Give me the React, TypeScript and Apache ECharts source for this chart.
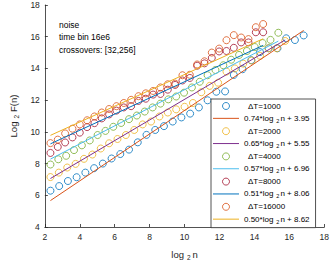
import React, { useEffect, useRef } from "react";
import * as echarts from "echarts";

// ---- data ----
const x1000 = [2.32, 2.82, 3.32, 3.82, 4.32, 4.82, 5.32, 5.82, 6.32, 6.82, 7.32, 7.82, 8.32, 8.82, 9.32, 9.82, 10.32, 10.82, 11.32, 11.82, 12.32, 12.82, 13.32, 13.82, 14.32, 14.82, 15.32, 15.82, 16.32, 16.82];
const y1000 = [6.29, 6.58, 6.9, 7.14, 7.43, 7.71, 8.0, 8.32, 8.6, 8.88, 9.34, 9.81, 10.12, 10.36, 10.65, 10.91, 11.15, 11.54, 11.99, 12.53, 12.55, 13.59, 13.95, 14.52, 15.03, 15.27, 15.27, 15.9, 15.79, 16.08];

const x2000 = [2.32, 2.8, 3.28, 3.76, 4.24, 4.72, 5.2, 5.68, 6.16, 6.64, 7.12, 7.6, 8.08, 8.56, 9.04, 9.52, 10.0, 10.48, 10.96, 11.44, 11.92, 12.4, 12.88, 13.36, 13.84, 14.32, 14.8, 15.28, 15.76];
const y2000 = [7.15, 7.43, 7.75, 7.98, 8.3, 8.57, 8.95, 9.28, 9.55, 9.8, 10.12, 10.47, 10.65, 10.97, 11.22, 11.42, 11.58, 11.82, 12.5, 12.9, 13.1, 13.8, 14.0, 14.3, 14.5, 14.8, 15.27, 15.27, 15.73];

const x4000 = [2.32, 2.77, 3.22, 3.67, 4.12, 4.57, 5.02, 5.47, 5.92, 6.37, 6.82, 7.27, 7.72, 8.17, 8.62, 9.07, 9.52, 9.97, 10.42, 10.87, 11.32, 11.77, 12.22, 12.67, 13.12, 13.57, 14.02, 14.47, 14.92, 15.37];
const y4000 = [7.94, 8.27, 8.49, 8.85, 9.15, 9.46, 9.8, 10.06, 10.32, 10.56, 10.8, 11.03, 11.28, 11.54, 11.78, 12.05, 12.23, 12.47, 12.8, 13.16, 13.57, 13.9, 14.2, 14.55, 14.85, 15.1, 15.35, 15.6, 15.8, 16.25];

const x8000 = [2.32, 2.74, 3.16, 3.58, 4.0, 4.42, 4.84, 5.26, 5.68, 6.1, 6.52, 6.94, 7.36, 7.78, 8.2, 8.62, 9.04, 9.46, 9.88, 10.3, 10.72, 11.14, 11.56, 11.98, 12.4, 12.82, 13.24, 13.66, 14.08, 14.5];
const y8000 = [8.67, 9.05, 9.33, 9.65, 9.95, 10.3, 10.55, 10.85, 11.1, 11.34, 11.54, 11.62, 11.95, 12.09, 12.35, 12.39, 12.66, 12.96, 13.24, 13.4, 14.17, 14.32, 14.66, 15.07, 15.1, 15.3, 15.64, 15.64, 16.28, 16.28];

const x16000 = [2.32, 2.74, 3.16, 3.58, 4.0, 4.42, 4.84, 5.26, 5.68, 6.1, 6.52, 6.94, 7.36, 7.78, 8.2, 8.62, 9.04, 9.46, 9.88, 10.3, 10.72, 11.14, 11.56, 11.98, 12.4, 12.82, 13.24, 13.66, 14.08, 14.5];
const y16000 = [9.29, 9.51, 9.9, 10.2, 10.47, 10.73, 10.97, 11.22, 11.44, 11.62, 11.82, 12.02, 12.25, 12.43, 12.58, 12.8, 13.0, 13.04, 13.57, 13.6, 14.25, 14.45, 15.0, 15.25, 15.78, 16.1, 15.95, 15.85, 16.6, 16.8];

const deltaTs = ["1000", "2000", "4000", "8000", "16000"];
const slopes = [0.74, 0.65, 0.57, 0.51, 0.5];
const intercepts = [3.95, 5.55, 6.96, 8.06, 8.62];
const xTicks = [2, 4, 6, 8, 10, 12, 14, 16, 18];
const yTicks = [4, 6, 8, 10, 12, 14, 16, 18];
const noteLines = ["noise", "time bin 16e6", "crossovers: [32,256]"];

const xs = [x1000, x2000, x4000, x8000, x16000];
const ys = [y1000, y2000, y4000, y8000, y16000];
const scatterColors = ["#0072BD", "#EDB120", "#77AC30", "#A2142F", "#D95319"];
const lineColors = ["#D95319", "#7E2F8E", "#4DBEEE", "#0072BD", "#EDB120"];

const FONT = "'Liberation Sans', Arial, Helvetica, sans-serif";
const AX = "#262626";
const LINE_ICON = "path://M0,0L26,0L26,1L0,1Z";

export default function App() {
  const ref = useRef<HTMLDivElement>(null);
  useEffect(() => {
    if (!ref.current) return;
    const chart = echarts.init(ref.current, undefined, { renderer: "svg" });
    const series: any[] = [];
    const legendData: any[] = [];
    const legendMap: Record<string, string> = {};
    deltaTs.forEach((dt, i) => {
      const sName = "s" + dt;
      const fName = "f" + dt;
      legendMap[sName] = "  \u0394T=" + dt;
      legendMap[fName] =
        slopes[i].toFixed(2) + "*log{s|2}n + " + intercepts[i].toFixed(2);
      const xv = xs[i];
      series.push({
        name: sName,
        type: "scatter",
        symbol: "circle",
        symbolSize: 7,
        data: xv.map((x, k) => [x, ys[i][k]]),
        itemStyle: { color: "rgba(255,255,255,0)", borderColor: scatterColors[i], borderWidth: 1 },
        z: 2,
      });
      legendData.push({
        name: sName,
        icon: "circle",
        itemStyle: { color: "rgba(255,255,255,0)", borderColor: scatterColors[i], borderWidth: 1 },
      });
      const x0 = xv[0];
      const x1 = xv[xv.length - 1];
      series.push({
        name: fName,
        type: "line",
        symbol: "none",
        color: lineColors[i],
        lineStyle: { color: lineColors[i], width: 1 },
        data: [
          [x0, slopes[i] * x0 + intercepts[i]],
          [x1, slopes[i] * x1 + intercepts[i]],
        ],
        z: 3,
      });
      legendData.push({
        name: fName,
        icon: LINE_ICON,
        itemStyle: { color: lineColors[i], borderWidth: 0 },
      });
    });

    chart.setOption({
      animation: false,
      grid: { left: 32, right: 6, top: 5, bottom: 31 },
      xAxis: {
        type: "value",
        min: 2,
        max: 18,
        interval: 2,
        name: "log{s|2}n",
        nameLocation: "middle",
        nameGap: 21,
        nameTextStyle: {
          color: AX,
          fontFamily: FONT,
          fontSize: 9.5,
          rich: { s: { fontSize: 6.5, padding: [6, 2, 0, 3], fontFamily: FONT, color: AX } },
        },
        axisLine: { show: true, lineStyle: { color: AX, width: 0.8 } },
        axisTick: { show: true, inside: true, length: 3, lineStyle: { color: AX, width: 0.8 } },
        axisLabel: { color: AX, fontFamily: FONT, fontSize: 8.5, margin: 5 },
        splitLine: { show: false },
      },
      yAxis: {
        type: "value",
        min: 4,
        max: 18,
        interval: 2,
        name: "Log{s|2}F(n)",
        nameLocation: "middle",
        nameGap: 22,
        nameTextStyle: {
          color: AX,
          fontFamily: FONT,
          fontSize: 9.5,
          rich: { s: { fontSize: 6.5, padding: [6, 3, 0, 3], fontFamily: FONT, color: AX } },
        },
        axisLine: { show: true, lineStyle: { color: AX, width: 0.8 } },
        axisTick: { show: true, inside: true, length: 3, lineStyle: { color: AX, width: 0.8 } },
        axisLabel: { color: AX, fontFamily: FONT, fontSize: 8.5, margin: 5 },
        splitLine: { show: false },
      },
      legend: {
        orient: "vertical",
        left: 211,
        top: 99,
        padding: [2, 6, 3, 2],
        itemGap: 2.35,
        itemWidth: 26,
        itemHeight: 7,
        symbolKeepAspect: true,
        backgroundColor: "#fff",
        borderColor: AX,
        borderWidth: 0.8,
        borderRadius: 0,
        data: legendData,
        formatter: (name: string) => legendMap[name],
        textStyle: {
          color: "#000",
          fontFamily: FONT,
          fontSize: 8,
          lineHeight: 10,
          rich: { s: { fontSize: 5.5, padding: [5, 1, 0, 3], fontFamily: FONT, color: "#000" } },
        },
      },
      graphic: noteLines.map((t, i) => ({
        type: "text",
        left: 59,
        top: 20 + i * 12.8,
        style: { text: t, fill: "#000", font: "8.5px " + FONT },
      })),
      series,
    });
    return () => chart.dispose();
  }, []);
  return (
    <div
      ref={ref}
      style={{ position: "fixed", left: 0, top: 0, width: 332, height: 266, background: "#fff" }}
    />
  );
}
